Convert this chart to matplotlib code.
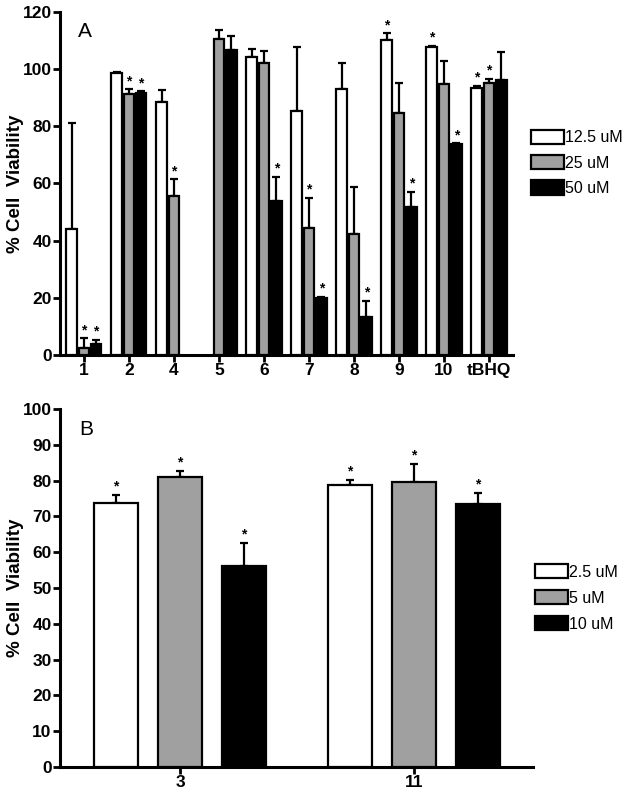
import numpy as np
import matplotlib
matplotlib.use("Agg")
import matplotlib.pyplot as plt

plt.rcParams["font.family"] = ["Liberation Sans", "DejaVu Sans"]

# Panel A data
groups_a = ["1", "2", "4", "5", "6", "7", "8", "9", "10", "tBHQ"]
conc_a = ["12.5 uM", "25 uM", "50 uM"]
vals_a = [
    [44.0, 98.5, 88.6, np.nan, 104.1, 85.5, 92.9, 110.2, 107.6, 93.5],
    [2.3, 91.2, 55.6, 110.5, 102.1, 44.4, 42.2, 84.5, 94.7, 95.0],
    [3.7, 91.7, np.nan, 106.6, 53.8, 20.0, 13.4, 51.6, 73.8, 96.2],
]
errs_a = [
    [37.2, 0.5, 4.2, 0.0, 2.9, 22.1, 9.1, 2.3, 0.4, 0.5],
    [3.5, 1.7, 5.8, 3.1, 4.1, 10.5, 16.7, 10.5, 8.2, 1.6],
    [1.5, 0.5, 0.0, 5.0, 8.6, 0.3, 5.6, 5.5, 0.2, 9.7],
]
stars_a = [
    [0, 0, 0, 0, 0, 0, 0, 1, 1, 1],
    [1, 1, 1, 0, 0, 1, 0, 0, 0, 1],
    [1, 1, 0, 0, 1, 1, 1, 1, 1, 0],
]

# Panel B data
groups_b = ["3", "11"]
conc_b = ["2.5 uM", "5 uM", "10 uM"]
vals_b = [
    [73.7, 78.9],
    [80.9, 79.6],
    [56.1, 73.6],
]
errs_b = [
    [2.4, 1.4],
    [1.9, 5.0],
    [6.6, 2.9],
]
stars_b = [[1, 1], [1, 1], [1, 1]]

colors = ["white", "#a0a0a0", "black"]


def draw_panel(ax, groups, concs, vals, errs, stars, offset, width, ymax, ystep, letter):
    x = np.arange(len(groups))
    for i in range(3):
        v = np.array(vals[i], dtype=float)
        e = np.array(errs[i], dtype=float)
        xi = x + (i - 1) * offset
        ax.bar(xi, v, width=width, color=colors[i], edgecolor="black",
               linewidth=1.6, label=concs[i], zorder=3)
        ok = ~np.isnan(v)
        ax.errorbar(xi[ok], v[ok], yerr=[np.zeros(ok.sum()), e[ok]], fmt="none",
                    ecolor="black", elinewidth=1.6, capsize=3, capthick=1.6, zorder=2)
        for j in range(len(groups)):
            if stars[i][j]:
                ax.annotate("*", (xi[j], v[j] + e[j]), xytext=(0, 1),
                            textcoords="offset points", ha="center", va="bottom",
                            fontsize=10, fontweight="bold")
    ax.set_ylim(0, ymax)
    ax.set_yticks(np.arange(0, ymax + 1, ystep))
    ax.set_xticks(x)
    ax.set_xticklabels(groups)
    for lab in ax.get_xticklabels() + ax.get_yticklabels():
        lab.set_fontweight("bold")
    ax.tick_params(axis="both", labelsize=12.5, width=2, length=5, pad=1)
    ax.spines["top"].set_visible(False)
    ax.spines["right"].set_visible(False)
    ax.spines["left"].set_linewidth(2.2)
    ax.spines["bottom"].set_linewidth(2.2)
    ax.set_ylabel("% Cell  Viability", fontsize=13.5, fontweight="bold")
    ax.text(0.04, 0.97, letter, transform=ax.transAxes, fontsize=15,
            ha="left", va="top")


fig = plt.figure(figsize=(6.24, 7.97), dpi=100)

ax_a = fig.add_axes([0.0962, 0.5546, 0.822 - 0.0962, 0.985 - 0.5546])
draw_panel(ax_a, groups_a, conc_a, vals_a, errs_a, stars_a, 0.273, 0.235, 120, 20, "A")
ax_a.set_xlim(-0.53, len(groups_a) - 0.47)
ax_a.yaxis.set_label_coords(-0.079, 0.5)
ax_a.legend(loc="upper left", bbox_to_anchor=(1.025, 0.675), frameon=False,
            fontsize=11.5, handlelength=2.1, handleheight=1.0, handletextpad=0.05,
            labelspacing=0.6, borderaxespad=0)

ax_b = fig.add_axes([0.0962, 0.0376, 0.854 - 0.0962, 0.4868 - 0.0376])
draw_panel(ax_b, groups_b, conc_b, vals_b, errs_b, stars_b, 0.274, 0.19, 100, 10, "B")
ax_b.set_xlim(-0.513, 1.509)
ax_b.yaxis.set_label_coords(-0.076, 0.5)
ax_b.legend(loc="upper left", bbox_to_anchor=(0.99, 0.585), frameon=False,
            fontsize=11.5, handlelength=2.1, handleheight=1.0, handletextpad=0.05,
            labelspacing=0.65, borderaxespad=0)

fig.savefig("out.png", dpi=100)
